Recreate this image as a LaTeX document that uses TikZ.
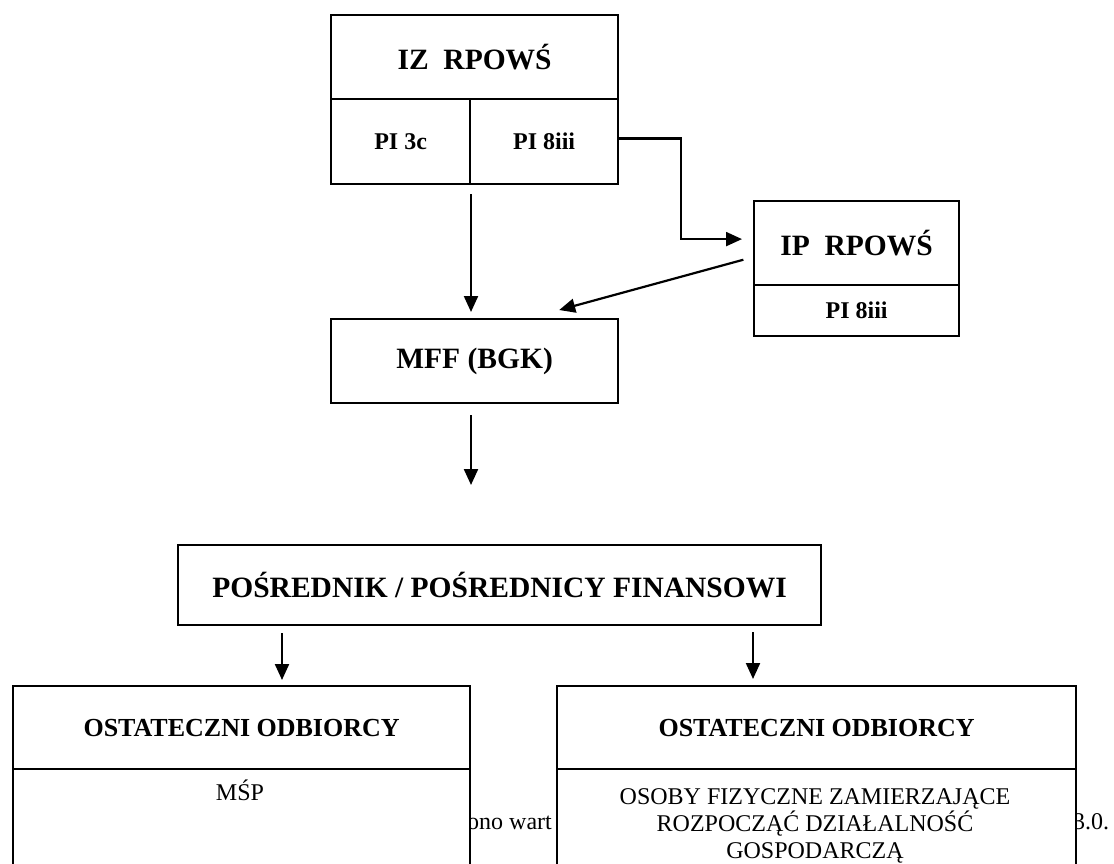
\documentclass[tikz,border=0pt]{standalone}
\usepackage{fontspec}
\setmainfont{Liberation Serif}
\usetikzlibrary{arrows.meta,calc}
\begin{document}
\begin{tikzpicture}[x=1pt,y=-1pt,
  cell/.style={draw=black,line width=2.2pt,fill=white,inner sep=0pt,anchor=north west,align=center},
  big/.style={font=\fontsize{29.5}{34}\selectfont\bfseries},
  mid/.style={font=\fontsize{24}{28}\selectfont\bfseries},
  sub/.style={font=\fontsize{26}{30}\selectfont\bfseries},
  plain/.style={font=\fontsize{24}{27}\selectfont},
  arr/.style={line width=2.2pt,-{Triangle[length=16pt,width=14pt]}}]
\useasboundingbox[fill=white] (0,0) rectangle (1114,864);

% partly hidden text behind the bottom boxes
\node[plain,anchor=base west,inner sep=0pt] (hid1) at (467,829) {ono wart};
\node[plain,anchor=base west,inner sep=0pt] (hid2) at (1073,829) {3.0.};

% top box
\node[cell,big,minimum width=287pt,minimum height=84pt] (iz) at (330,14) {IZ\hspace{0.5em}RPOWŚ};
\node[cell,mid,minimum width=139pt,minimum height=85pt] (pi3c) at (330,98) {PI 3c};
\node[cell,mid,minimum width=148pt,minimum height=85pt] (pi8) at (469,98) {PI 8iii};

% IP box
\node[cell,big,minimum width=205pt,minimum height=84pt] (ip) at (753,200) {IP\hspace{0.5em}RPOWŚ};
\node[cell,mid,minimum width=205pt,minimum height=51pt] (ip8) at (753,284) {PI 8iii};

% MFF
\node[cell,big,minimum width=287pt,minimum height=84pt] (mff) at (330,318) {MFF (BGK)};

% intermediary
\node[cell,big,minimum width=643pt,minimum height=80pt] (pos) at (177,544) {POŚREDNIK / POŚREDNICY FINANSOWI};

% final recipients left
\node[cell,sub,minimum width=457pt,minimum height=83pt] (oa) at (12,685) {OSTATECZNI ODBIORCY};
\node[cell,minimum width=457pt,minimum height=130pt] (ob) at (12,768) {};
\node[plain] (msp) at (240,790) {MŚP};

% final recipients right
\node[cell,sub,minimum width=519pt,minimum height=83pt] (ra) at (556,685) {OSTATECZNI ODBIORCY};
\node[cell,minimum width=519pt,minimum height=130pt] (rb) at (556,768) {};
\node[plain,align=center] (osoby) at (815,826) {OSOBY FIZYCZNE ZAMIERZAJĄCE\\ROZPOCZĄĆ DZIAŁALNOŚĆ\\GOSPODARCZĄ};

% connectors
\coordinate (gap) at (471,485);
\draw[arr,shorten <=9pt,shorten >=6pt] ($(pi8.south west)+(2,0)$) -- ($(mff.north west)+(141,0)$);
\draw[arr,shorten >=11pt] ($(pi8.east)+(0,-3)$) -- ++(62,0) |- ($(ip.west)+(0,-4)$);
\draw[arr,shorten <=10pt] ($(ip.west)+(0,14)$) -- ($(mff.north east)+(-60,-8)$);
\draw[arr,shorten <=11pt] ($(mff.south west)+(141,0)$) -- (gap);
\draw[arr,shorten <=7pt,shorten >=5pt] ($(pos.south west)+(105,0)$) -- ($(oa.north west)+(270,0)$);
\draw[arr,shorten <=6pt,shorten >=6pt] ($(pos.south west)+(576,0)$) -- ($(ra.north west)+(197,0)$);
\end{tikzpicture}
\end{document}
